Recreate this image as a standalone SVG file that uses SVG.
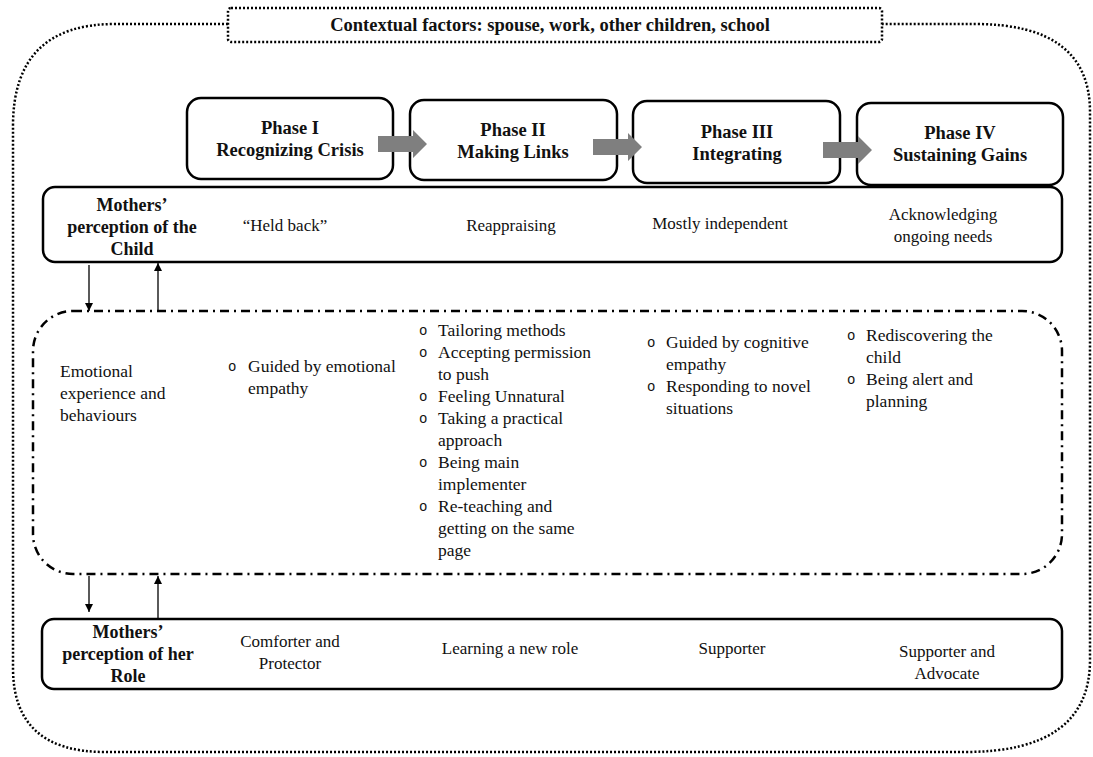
<svg xmlns="http://www.w3.org/2000/svg" width="1093" height="757" viewBox="0 0 1093 757">
  <style>
    text { font-family: 'Liberation Serif', Tinos, 'DejaVu Serif', serif; fill: #111; }
    .b { font-weight: bold; }
    .phase { font-size: 18.5px; font-weight: bold; text-anchor: middle; }
    .lbl { font-size: 18px; font-weight: bold; text-anchor: middle; }
    .cell { font-size: 17px; text-anchor: middle; }
    .item { font-size: 17.5px; }
    .bul { font-family: 'Liberation Mono', 'DejaVu Sans Mono', monospace; font-size: 14px; }
    .solidbox { fill: #fff; stroke: #000; stroke-width: 2.5; }
    .dotted { fill: none; stroke: #000; stroke-width: 2.5; stroke-dasharray: 2 2; }
    .dashdot { fill: none; stroke: #000; stroke-width: 2.5; stroke-dasharray: 9 5 2 5; }
    .thin { stroke: #000; stroke-width: 1.3; fill: none; }
    .gray { fill: #7f7f7f; }
  </style>
  <defs>
    <marker id="tip" markerUnits="userSpaceOnUse" markerWidth="8" markerHeight="10" refX="8" refY="4" orient="auto">
      <path d="M0,0 L8,4 L0,8 z" fill="#000"/>
    </marker>
  </defs>

  <rect width="1093" height="757" fill="#fff"/>

  <!-- outer context boundary -->
  <g id="context">
    <path class="dotted" d="M228,24 L115,24 Q13,24 13,126 L13,668 Q13,752 105,752 L965,752 Q1090,752 1090,660 L1090,112 Q1090,24 975,24 L882,24"/>
    <rect class="dotted" x="228" y="8" width="654" height="34" rx="3" fill="#fff"/>
    <text class="b" x="550" y="31" font-size="18.5" text-anchor="middle">Contextual factors: spouse, work, other children, school</text>
  </g>

  <!-- phases -->
  <g id="phase1">
    <rect class="solidbox" x="187" y="98" width="206" height="81" rx="14"/>
    <text class="phase" x="290" y="134">Phase I</text>
    <text class="phase" x="290" y="156">Recognizing Crisis</text>
  </g>
  <g id="phase2">
    <rect class="solidbox" x="410" y="100" width="207" height="80" rx="14"/>
    <text class="phase" x="513" y="136">Phase II</text>
    <text class="phase" x="513" y="158">Making Links</text>
  </g>
  <g id="phase3">
    <rect class="solidbox" x="633" y="101" width="207" height="82" rx="14"/>
    <text class="phase" x="737" y="138">Phase III</text>
    <text class="phase" x="737" y="160">Integrating</text>
  </g>
  <g id="phase4">
    <rect class="solidbox" x="857" y="103" width="206" height="82" rx="14"/>
    <text class="phase" x="960" y="139">Phase IV</text>
    <text class="phase" x="960" y="161">Sustaining Gains</text>
  </g>

  <!-- perception of the child -->
  <g id="child-row">
    <rect class="solidbox" x="43" y="187" width="1019" height="75" rx="12"/>
    <text class="lbl" x="132" y="211">Mothers’</text>
    <text class="lbl" x="132" y="233">perception of the</text>
    <text class="lbl" x="132" y="255">Child</text>
    <text class="cell" x="285" y="231">“Held back”</text>
    <text class="cell" x="511" y="231">Reappraising</text>
    <text class="cell" x="720" y="229">Mostly independent</text>
    <text class="cell" x="943" y="220">Acknowledging</text>
    <text class="cell" x="943" y="242">ongoing needs</text>
  </g>

  <!-- emotional experience -->
  <g id="emotion-row">
    <rect class="dashdot" x="33" y="311" width="1029" height="263" rx="40"/>
    <text class="item" x="60" y="377">Emotional</text>
    <text class="item" x="60" y="399">experience and</text>
    <text class="item" x="60" y="421">behaviours</text>

    <text class="bul" x="228" y="371">o</text>
    <text class="item" x="248" y="372">Guided by emotional</text>
    <text class="item" x="248" y="394">empathy</text>

    <text class="bul" x="419" y="335">o</text>
    <text class="item" x="438" y="336">Tailoring  methods</text>
    <text class="bul" x="419" y="357">o</text>
    <text class="item" x="438" y="358">Accepting permission</text>
    <text class="item" x="438" y="380">to push</text>
    <text class="bul" x="419" y="401">o</text>
    <text class="item" x="438" y="402">Feeling Unnatural</text>
    <text class="bul" x="419" y="423">o</text>
    <text class="item" x="438" y="424">Taking a practical</text>
    <text class="item" x="438" y="446">approach</text>
    <text class="bul" x="419" y="467">o</text>
    <text class="item" x="438" y="468">Being main</text>
    <text class="item" x="438" y="490">implementer</text>
    <text class="bul" x="419" y="511">o</text>
    <text class="item" x="438" y="512">Re-teaching and</text>
    <text class="item" x="438" y="534">getting on the same</text>
    <text class="item" x="438" y="556">page</text>

    <text class="bul" x="647" y="347">o</text>
    <text class="item" x="666" y="348">Guided by cognitive</text>
    <text class="item" x="666" y="370">empathy</text>
    <text class="bul" x="647" y="391">o</text>
    <text class="item" x="666" y="392">Responding to novel</text>
    <text class="item" x="666" y="414">situations</text>

    <text class="bul" x="847" y="340">o</text>
    <text class="item" x="866" y="341">Rediscovering the</text>
    <text class="item" x="866" y="363">child</text>
    <text class="bul" x="847" y="384">o</text>
    <text class="item" x="866" y="385">Being alert and</text>
    <text class="item" x="866" y="407">planning</text>
  </g>

  <!-- perception of her role -->
  <g id="role-row">
    <rect class="solidbox" x="42" y="619" width="1020" height="70" rx="12"/>
    <text class="lbl" x="128" y="638">Mothers’</text>
    <text class="lbl" x="128" y="660">perception of her</text>
    <text class="lbl" x="128" y="682">Role</text>
    <text class="cell" x="290" y="647">Comforter and</text>
    <text class="cell" x="290" y="669">Protector</text>
    <text class="cell" x="510" y="654">Learning a new role</text>
    <text class="cell" x="732" y="654">Supporter</text>
    <text class="cell" x="947" y="657">Supporter and</text>
    <text class="cell" x="947" y="679">Advocate</text>
  </g>

  <!-- connectors -->
  <g id="connectors">
    <polygon class="gray" points="378,136 413,136 413,130 427,144 413,158 413,152 378,152"/>
    <polygon class="gray" points="593,139 628,139 628,133 642,147 628,161 628,155 593,155"/>
    <polygon class="gray" points="823,142 858,142 858,136 872,150 858,164 858,158 823,158"/>

    <line class="thin" x1="89" y1="265" x2="89" y2="311" marker-end="url(#tip)"/>
    <line class="thin" x1="158" y1="311" x2="158" y2="263" marker-end="url(#tip)"/>
    <line class="thin" x1="89" y1="576" x2="89" y2="612" marker-end="url(#tip)"/>
    <line class="thin" x1="158" y1="619" x2="158" y2="576" marker-end="url(#tip)"/>
  </g>
</svg>
